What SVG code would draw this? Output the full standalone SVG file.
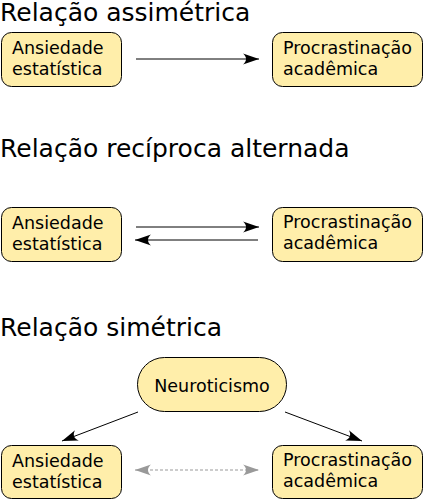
<svg xmlns="http://www.w3.org/2000/svg" width="425" height="500" viewBox="0 0 425 500">
<style>
.title{font-family:"DejaVu Sans",sans-serif;font-size:25px;fill:#000}
.lbl{font-family:"DejaVu Sans",sans-serif;font-size:17.5px;fill:#000}
.box{fill:#ffeeaa;stroke:#000;stroke-width:1}
.edge{stroke:#000;stroke-width:1;fill:none}
.dash{stroke:#999;stroke-width:1.2;fill:none;stroke-dasharray:3,2}
</style>
<defs>
<marker id="ah" markerUnits="userSpaceOnUse" markerWidth="20" markerHeight="14" viewBox="-17 -7 20 14" refX="0" refY="0" orient="auto">
<path d="M0,0 L-16,-5.5 C-12,-2 -12,2 -16,5.5 Z" fill="#000"/>
</marker>
<marker id="ahg" markerUnits="userSpaceOnUse" markerWidth="20" markerHeight="14" viewBox="-17 -7 20 14" refX="0" refY="0" orient="auto">
<path d="M0,0 L-16,-5.5 C-12,-2 -12,2 -16,5.5 Z" fill="#999"/>
</marker>
<marker id="ahgs" markerUnits="userSpaceOnUse" markerWidth="20" markerHeight="14" viewBox="-3 -7 20 14" refX="0" refY="0" orient="auto">
<path d="M0,0 L16,-5.5 C12,-2 12,2 16,5.5 Z" fill="#999"/>
</marker>
</defs>

<text class="title" x="0" y="21">Relação assimétrica</text>
<text class="title" x="0" y="157">Relação recíproca alternada</text>
<text class="title" x="0" y="336">Relação simétrica</text>

<g id="connectors">
<line class="edge" x1="136" y1="59" x2="259" y2="59" marker-end="url(#ah)"/>
<line class="edge" x1="136" y1="227" x2="259" y2="227" marker-end="url(#ah)"/>
<line class="edge" x1="258" y1="240" x2="135" y2="240" marker-end="url(#ah)"/>
<line class="edge" x1="138" y1="412" x2="62" y2="441" marker-end="url(#ah)"/>
<line class="edge" x1="285" y1="412" x2="362" y2="441" marker-end="url(#ah)"/>
<line class="dash" x1="135" y1="470" x2="259" y2="470" marker-start="url(#ahgs)" marker-end="url(#ahg)"/>
</g>

<g id="ansiedade1">
<rect class="box" x="1.5" y="32.5" width="120" height="54" rx="10"/>
<text class="lbl" x="12" y="53.5">Ansiedade</text>
<text class="lbl" x="12" y="74.5">estatística</text>
</g>
<g id="procrastinacao1">
<rect class="box" x="272.5" y="32.5" width="150" height="54" rx="10"/>
<text class="lbl" x="283" y="54">Procrastinação</text>
<text class="lbl" x="283" y="75">acadêmica</text>
</g>

<g id="ansiedade2">
<rect class="box" x="1.5" y="207.5" width="120" height="54" rx="10"/>
<text class="lbl" x="12" y="228.5">Ansiedade</text>
<text class="lbl" x="12" y="249.5">estatística</text>
</g>
<g id="procrastinacao2">
<rect class="box" x="272.5" y="207.5" width="150" height="54" rx="10"/>
<text class="lbl" x="283" y="228">Procrastinação</text>
<text class="lbl" x="283" y="249">acadêmica</text>
</g>

<g id="neuroticismo">
<rect class="box" x="137.5" y="357.5" width="149" height="54" rx="27"/>
<text class="lbl" x="212" y="392" text-anchor="middle">Neuroticismo</text>
</g>

<g id="ansiedade3">
<rect class="box" x="1.5" y="445.5" width="120" height="53" rx="10"/>
<text class="lbl" x="12" y="466.5">Ansiedade</text>
<text class="lbl" x="12" y="487.5">estatística</text>
</g>
<g id="procrastinacao3">
<rect class="box" x="272.5" y="445.5" width="150" height="53" rx="10"/>
<text class="lbl" x="283" y="466">Procrastinação</text>
<text class="lbl" x="283" y="487">acadêmica</text>
</g>
</svg>
